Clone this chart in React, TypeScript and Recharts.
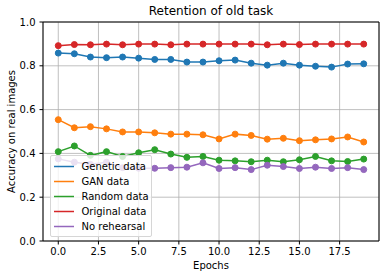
import React from 'react';
import { LineChart, Line, XAxis, YAxis, CartesianGrid, Label } from 'recharts';

const epochs = [0, 1, 2, 3, 4, 5, 6, 7, 8, 9, 10, 11, 12, 13, 14, 15, 16, 17, 18, 19];
const geneticData = [0.858, 0.855, 0.840, 0.837, 0.840, 0.835, 0.829, 0.829, 0.817, 0.817, 0.823, 0.826, 0.812, 0.803, 0.812, 0.803, 0.798, 0.794, 0.808, 0.809];
const ganData = [0.554, 0.517, 0.522, 0.512, 0.498, 0.498, 0.494, 0.488, 0.488, 0.485, 0.466, 0.488, 0.482, 0.465, 0.469, 0.458, 0.462, 0.466, 0.475, 0.452];
const randomData = [0.408, 0.434, 0.391, 0.408, 0.386, 0.403, 0.417, 0.397, 0.382, 0.386, 0.369, 0.366, 0.362, 0.369, 0.362, 0.371, 0.386, 0.366, 0.363, 0.374];
const originalData = [0.892, 0.897, 0.896, 0.899, 0.896, 0.899, 0.899, 0.896, 0.899, 0.899, 0.899, 0.899, 0.899, 0.896, 0.899, 0.897, 0.899, 0.899, 0.899, 0.899];
const noRehearsalData = [0.375, 0.36, 0.35, 0.36, 0.335, 0.332, 0.332, 0.335, 0.337, 0.357, 0.331, 0.335, 0.326, 0.346, 0.34, 0.331, 0.337, 0.331, 0.335, 0.326];

const xTicks = [0, 2.5, 5, 7.5, 10, 12.5, 15, 17.5];
const yTicks = [0, 0.2, 0.4, 0.6, 0.8, 1.0];

const seriesNames = ['Genetic data', 'GAN data', 'Random data', 'Original data', 'No rehearsal'];
const seriesKeys = ['genetic', 'gan', 'random', 'original', 'none'];
const seriesColors = ['#1f77b4', '#ff7f0e', '#2ca02c', '#d62728', '#9467bd'];
const seriesValues = [geneticData, ganData, randomData, originalData, noRehearsalData];

const data = epochs.map((e, i) => {
  const row: any = { epoch: e };
  seriesKeys.forEach((k, j) => {
    row[k] = seriesValues[j][i];
  });
  return row;
});

const FONT = '"DejaVu Sans", sans-serif';
const tickStyle = { fill: '#000', fontSize: 10, fontFamily: FONT };

export default function App() {
  return (
    <div style={{ position: 'absolute', left: 0, top: 0, width: 386, height: 278, background: '#fff', fontFamily: FONT }}>
      <LineChart width={386} height={278} data={data} margin={{ top: 0, right: 0, left: 0, bottom: 0 }}>
        <CartesianGrid stroke="#b0b0b0" strokeWidth={0.8} />
        <XAxis
          dataKey="epoch"
          type="number"
          domain={[-0.95, 19.95]}
          ticks={xTicks}
          tickFormatter={(v: number) => v.toFixed(1)}
          height={37}
          tickSize={3.5}
          tickMargin={3.5}
          stroke="#000"
          tick={tickStyle}
          allowDataOverflow
          interval={0}
        >
          <Label value="Epochs" position="insideBottom" offset={9} style={{ fill: '#000', fontSize: 10, fontFamily: FONT }} />
        </XAxis>
        <XAxis
          xAxisId="top"
          orientation="top"
          type="number"
          domain={[-0.95, 19.95]}
          height={22}
          tick={false}
          tickLine={false}
          stroke="#000"
          allowDataOverflow
        >
          <Label value="Retention of old task" position="insideTop" offset={6} style={{ fill: '#000', fontSize: 12, fontFamily: FONT }} />
        </XAxis>
        <YAxis
          type="number"
          domain={[0, 1]}
          ticks={yTicks}
          tickFormatter={(v: number) => v.toFixed(1)}
          width={43}
          tickSize={3.5}
          tickMargin={4}
          stroke="#000"
          tick={tickStyle}
          interval={0}
        >
          <Label
            value="Accuracy on real images"
            angle={-90}
            position="center"
            dx={-10}
            style={{ fill: '#000', fontSize: 10, fontFamily: FONT, textAnchor: 'middle' }}
          />
        </YAxis>
        <YAxis
          yAxisId="right"
          orientation="right"
          type="number"
          domain={[0, 1]}
          width={7}
          tick={false}
          tickLine={false}
          stroke="#000"
        />
        {seriesKeys.map((k, j) => (
          <Line
            key={k}
            dataKey={k}
            name={seriesNames[j]}
            type="linear"
            stroke={seriesColors[j]}
            strokeWidth={1.5}
            dot={{ r: 3, fill: seriesColors[j], stroke: seriesColors[j], strokeWidth: 1 }}
            activeDot={false}
            isAnimationActive={false}
          />
        ))}
      </LineChart>
      <div
        style={{
          position: 'absolute',
          left: 49.5,
          top: 155,
          width: 102,
          height: 82,
          boxSizing: 'border-box',
          background: 'rgba(255,255,255,0.8)',
          border: '1px solid #d6d6d6',
          borderRadius: 2,
          paddingTop: 3,
        }}
      >
        {seriesNames.map((n, j) => (
          <div key={n} style={{ height: 15, display: 'flex', alignItems: 'center' }}>
            <svg width={20} height={15} style={{ marginLeft: 3, marginRight: 8, display: 'block' }}>
              <line x1={0} x2={20} y1={7.5} y2={7.5} stroke={seriesColors[j]} strokeWidth={1.5} />
            </svg>
            <span style={{ fontSize: 10, fontFamily: FONT, color: '#000', whiteSpace: 'nowrap', lineHeight: '15px' }}>{n}</span>
          </div>
        ))}
      </div>
    </div>
  );
}
